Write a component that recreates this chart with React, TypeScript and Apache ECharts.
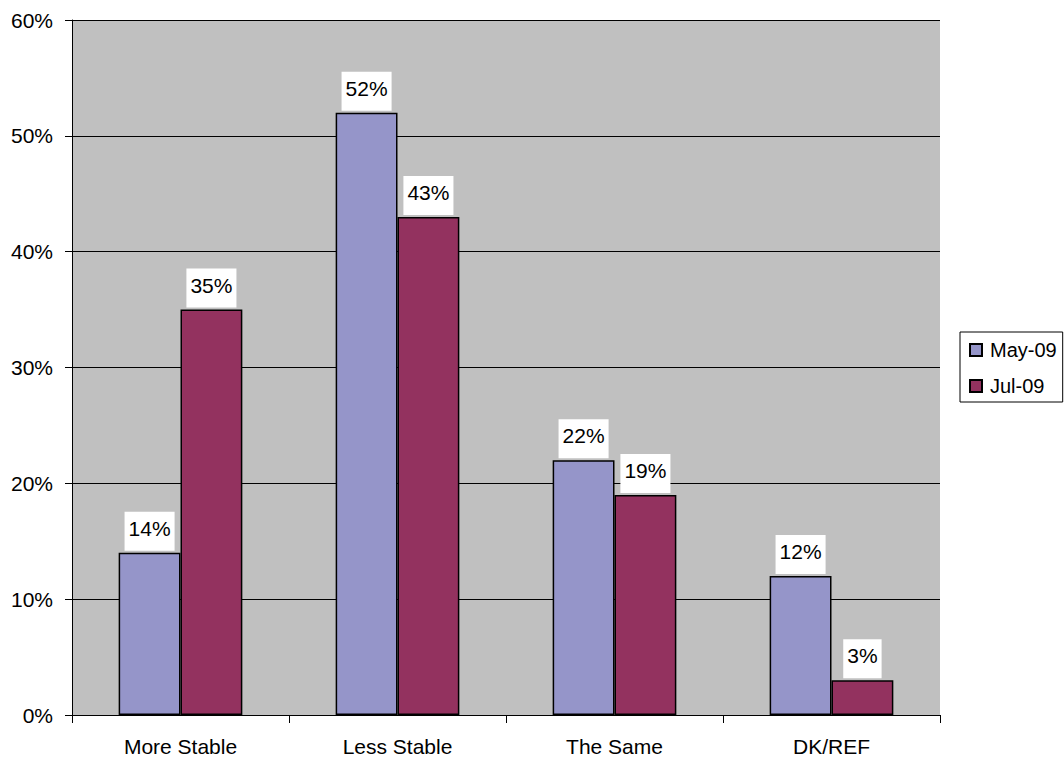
import React, { useEffect, useRef } from "react";
import * as echarts from "echarts";

const categories = ["More Stable", "Less Stable", "The Same", "DK/REF"];
const may09 = [14, 52, 22, 12];
const jul09 = [35, 43, 19, 3];
const seriesNames = ["May-09", "Jul-09"];
const yTicks = { min: 0, max: 60, interval: 10 };

const FONT = "Arial, 'Liberation Sans', sans-serif";

export default function App() {
  const ref = useRef<HTMLDivElement>(null);
  useEffect(() => {
    document.body.style.margin = "0";
    const chart = echarts.init(ref.current!, null, { renderer: "svg" });
    const label = {
      show: true,
      position: "top" as const,
      distance: 2,
      formatter: "{c}%",
      color: "#000",
      fontSize: 21,
      fontFamily: FONT,
      lineHeight: 21,
      backgroundColor: "#fff",
      padding: [6, 4, 12, 4],
    };
    chart.setOption({
      animation: false,
      backgroundColor: "#fff",
      textStyle: { fontFamily: FONT },
      grid: {
        left: 72,
        right: 124,
        top: 20,
        bottom: 47,
        show: true,
        backgroundColor: "#C0C0C0",
        borderWidth: 0,
      },
      legend: {
        orient: "vertical",
        left: 960,
        top: 332,
        width: 100,
        itemWidth: 12,
        itemHeight: 12,
        itemGap: 16,
        padding: [8, 6, 6, 9],
        borderColor: "#000",
        borderWidth: 1,
        icon: "rect",
        textStyle: { fontSize: 20, fontFamily: FONT, color: "#000", padding: [0, 0, 0, 3] },
        data: seriesNames,
      },
      xAxis: {
        type: "category",
        data: categories,
        axisLine: { lineStyle: { color: "#000", width: 1 } },
        axisTick: { show: true, length: 8, lineStyle: { color: "#000" } },
        axisLabel: { fontSize: 21, fontFamily: FONT, color: "#000", margin: 21 },
      },
      yAxis: {
        type: "value",
        min: yTicks.min,
        max: yTicks.max,
        interval: yTicks.interval,
        axisLine: { show: true, lineStyle: { color: "#000", width: 1 } },
        axisTick: { show: true, length: 7, lineStyle: { color: "#000" } },
        axisLabel: {
          formatter: "{value}%",
          fontSize: 21,
          fontFamily: FONT,
          color: "#000",
          margin: 19,
        },
        splitLine: { show: true, lineStyle: { color: "#000", width: 1 } },
      },
      series: [
        {
          name: seriesNames[0],
          type: "bar",
          data: may09,
          barGap: "0%",
          barCategoryGap: "43%",
          itemStyle: { color: "#9595C9", borderColor: "#000", borderWidth: 1.5 },
          label,
        },
        {
          name: seriesNames[1],
          type: "bar",
          data: jul09,
          barGap: "0%",
          barCategoryGap: "43%",
          itemStyle: { color: "#93325F", borderColor: "#000", borderWidth: 1.5 },
          label,
        },
      ],
    });
    return () => chart.dispose();
  }, []);
  return (
    <div
      ref={ref}
      style={{ position: "fixed", left: 0, top: 0, width: 1064, height: 762 }}
    />
  );
}
